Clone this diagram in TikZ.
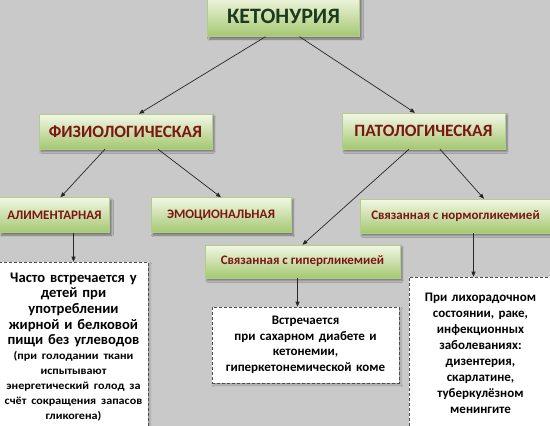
\documentclass[tikz,border=0pt]{standalone}
\usepackage{fontspec}
\setmainfont{Carlito}
\newfontfamily\widefont[FakeStretch=1.1]{Carlito}
\usepackage{xcolor}
\usepackage{tikz}
\usetikzlibrary{
    positioning,
    arrows.meta,
    shadows,
    shadows.blur
}
\definecolor{chartGray}{RGB}{201, 201, 201}
\definecolor{boxLight}{RGB}{243, 247, 230}
\definecolor{boxGreen}{RGB}{164, 200, 112}
\definecolor{boxEdge}{RGB}{178, 204, 138}
\definecolor{titleGreen}{RGB}{30, 58, 30}
\definecolor{labelRed}{RGB}{125, 22, 18}
\tikzset{
    % 緑のブロック(グラデーション)
    block/.style={
        rectangle,
        top color=boxLight,
        bottom color=boxGreen,
        draw=boxEdge,            % 枠線の色
        line width=0.4pt,
        text=labelRed,
        align=center,
        inner sep=2pt,
        font=\bfseries\fontsize{13}{15}\selectfont,
        % 影の設定
        blur shadow={shadow xshift=2pt, shadow yshift=-2.5pt, shadow opacity=45}
    },
    % 大きい見出し用
    bigblock/.style={
        block,
        font=\bfseries\fontsize{17.3}{19}\selectfont
    },
    % 説明文の破線ボックス
    note/.style={
        rectangle,
        fill=white,
        draw=black!70,
        dash pattern=on 3pt off 2pt,
        line width=0.6pt,
        text width=#1,
        align=center,
        inner sep=1pt,
        font=\bfseries\fontsize{13}{15.5}\selectfont,
        blur shadow={shadow xshift=2pt, shadow yshift=-2pt, shadow opacity=20}
    },
    % 矢印のスタイル
    arrow/.style={
        -{Triangle[length=5pt, width=4pt]},
        color=black!85,
        line width=0.7pt
    }
}

\begin{document}
\begin{tikzpicture}[x=1pt, y=-1pt]

    % 背景
    \fill[chartGray] (0,0) rectangle (550,426);
    \useasboundingbox (0,0) rectangle (550,426);

    % [1] ケトン尿 (最上段)
    \node[block, text=titleGreen, font=\bfseries\fontsize{22}{24}\selectfont,
        minimum width=152pt, minimum height=41pt] (ket) at (283.5,16) {КЕТОНУРИЯ};

    % [2] 二つの分類
    \node[bigblock, minimum width=173pt, minimum height=35pt] (fiz) at (125.5,131.5) {ФИЗИОЛОГИЧЕСКАЯ};
    \node[bigblock, minimum width=163pt, minimum height=36pt] (pat) at (423.5,131) {ПАТОЛОГИЧЕСКАЯ};

    % [3] 下位の分類
    \node[block, minimum width=110pt, minimum height=35pt] (alim) at (54.5,215) {АЛИМЕНТАРНАЯ};
    \node[block, minimum width=140pt, minimum height=35pt] (emo) at (221,215) {ЭМОЦИОНАЛЬНАЯ};
    \node[block, minimum width=191pt, minimum height=34pt] (norm) at (455.5,216) {Связанная с нормогликемией};
    \node[block, minimum width=195pt, minimum height=33pt] (hyper) at (302.5,261.5) {Связанная с гипергликемией};

    % [4] 説明文
    \node[note=147pt, minimum height=170pt, font=\bfseries\fontsize{14.6}{15.6}\selectfont] (alimtxt) at (73.5,347) {
        Часто встречается у\\ детей при\\ употреблении\\ жирной и белковой\\ пищи без углеводов\par
        {\widefont\bfseries\fontsize{11}{15}\selectfont (при голодании ткани\\ испытывают\\ энергетический голод за\\ счёт сокращения запасов\\ гликогена)\par}
    };
    \node[note=185pt, minimum height=76pt] (hypertxt) at (305.5,345) {
        Встречается\\ при сахарном диабете и\\ кетонемии,\\ гиперкетонемической коме
    };
    \node[note=141pt, minimum height=153pt, font=\bfseries\fontsize{13}{16}\selectfont] (normtxt) at (480.5,353.5) {
        При лихорадочном\\ состоянии, раке,\\ инфекционных\\ заболеваниях:\\ дизентерия,\\ скарлатине,\\ туберкулёзном\\ менингите
    };

    % 矢印の描画
    \draw[arrow] ([xshift=-18pt]ket.south) -- ([xshift=13.5pt]fiz.north);
    \draw[arrow] ([xshift=16pt]ket.south) -- ([xshift=-8.5pt]pat.north);
    \draw[arrow] ([xshift=-20.5pt]fiz.south) -- ([xshift=6pt]alim.north);
    \draw[arrow] ([xshift=32.5pt]fiz.south) -- (emo.north);
    \draw[arrow] ([xshift=-14.5pt]pat.south) -- (hyper.north);
    \draw[arrow] ([xshift=16.5pt]pat.south) -- ([xshift=28.5pt]norm.north);
    \draw[arrow] (alimtxt.north |- alim.south) -- (alimtxt.north);
    \draw[arrow] ([xshift=-5pt]hyper.south) -- ([xshift=-5pt]hyper.south |- hypertxt.north);
    \draw[arrow] ([xshift=18pt]norm.south) -- ([xshift=18pt]norm.south |- normtxt.north);

\end{tikzpicture}
\end{document}
